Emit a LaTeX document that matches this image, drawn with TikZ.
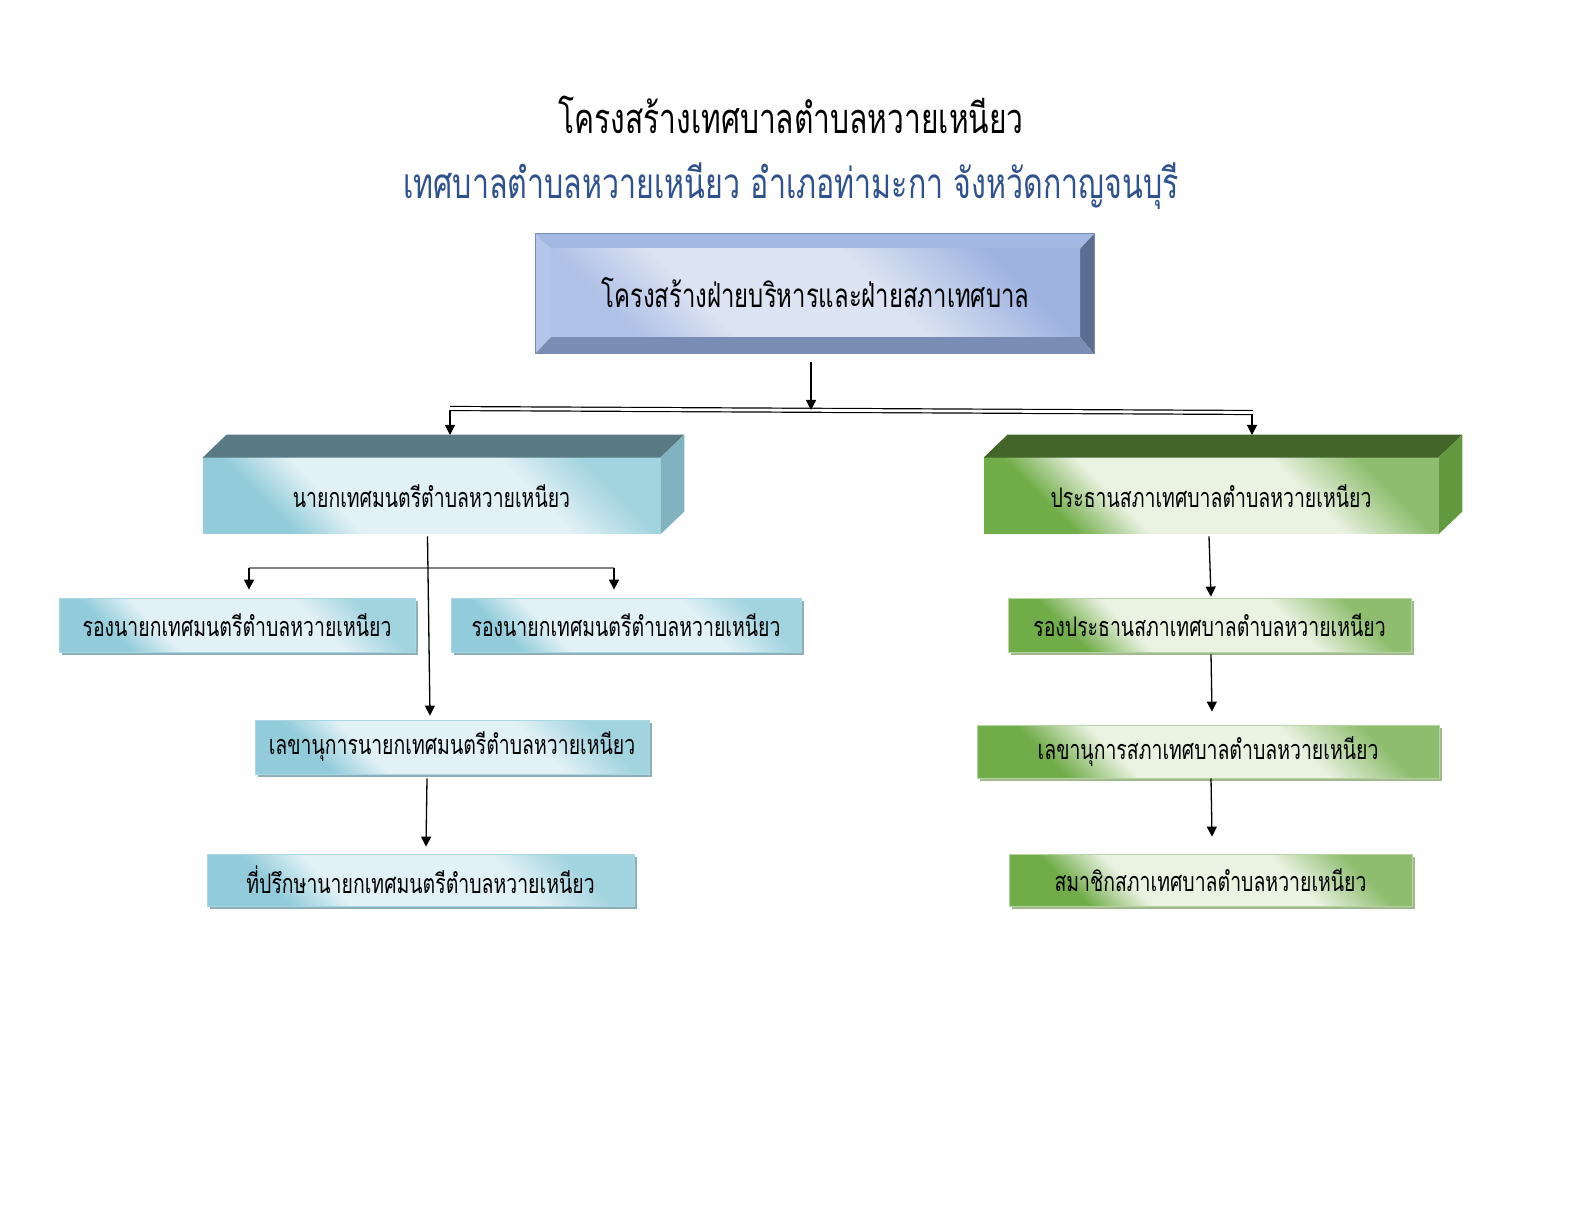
\documentclass[tikz,border=0pt]{standalone}
\usepackage{fontspec}
\newfontfamily\thai[Script=Thai,FakeStretch=0.72]{Loma}
\usetikzlibrary{arrows.meta,calc,shadows}
\definecolor{subblue}{RGB}{47,82,143}
\definecolor{bvtop}{RGB}{163,184,227}
\definecolor{bvleft}{RGB}{180,197,234}
\definecolor{bvright}{RGB}{91,110,146}
\definecolor{bvbot}{RGB}{122,141,181}
\definecolor{tbdark}{RGB}{158,179,226}
\definecolor{tblight}{RGB}{220,227,242}
\definecolor{bldark}{RGB}{146,204,218}
\definecolor{bllight}{RGB}{226,241,246}
\definecolor{blshadow}{RGB}{140,175,186}
\definecolor{gndark}{RGB}{112,172,72}
\definecolor{gnlight}{RGB}{234,242,226}
\definecolor{gnshadow}{RGB}{160,184,140}
\definecolor{bltop}{RGB}{90,123,132}
\definecolor{blside}{RGB}{128,178,192}
\definecolor{gntop}{RGB}{68,101,42}
\definecolor{gnside}{RGB}{99,153,62}
\pgfdeclarehorizontalshading{bluesh}{100bp}{color(0bp)=(bldark); color(27bp)=(bldark); color(36bp)=(bllight); color(64bp)=(bllight); color(75bp)=(bldark!85); color(100bp)=(bldark!85)}
\pgfdeclarehorizontalshading{greensh}{100bp}{color(0bp)=(gndark); color(27bp)=(gndark); color(37bp)=(gnlight); color(63bp)=(gnlight); color(75bp)=(gndark!80); color(100bp)=(gndark!80)}
\pgfdeclarehorizontalshading{topsh}{100bp}{color(0bp)=(tbdark!80); color(25bp)=(tbdark!80); color(36bp)=(tblight); color(58bp)=(tblight); color(75bp)=(tbdark); color(100bp)=(tbdark)}
\begin{document}
\begin{tikzpicture}[x=0.5pt,y=-0.5pt,
  every node/.style={font=\thai},
  arr/.style={draw=black,line width=0.65pt,-{Triangle[width=5pt,length=5pt]}},
  boxfont/.style={font=\thai\fontsize{13.5}{16}\selectfont},
  blueshade/.style={shading=bluesh,shading angle=45},
  greenshade/.style={shading=greensh,shading angle=45},
  flatblue/.style={blueshade,draw=bldark!80,line width=0.4pt,
    general shadow={shadow xshift=1.5pt,shadow yshift=-1.5pt,fill=blshadow},minimum height=27pt,inner sep=0pt,boxfont},
  flatgreen/.style={greenshade,draw=gndark!50,line width=0.4pt,
    general shadow={shadow xshift=1.5pt,shadow yshift=-1.5pt,fill=gnshadow},minimum height=27pt,inner sep=0pt,boxfont},
  boxblue/.style={blueshade,minimum height=38pt,inner sep=0pt,boxfont},
  boxgreen/.style={greenshade,minimum height=38pt,inner sep=0pt,boxfont}
]
\useasboundingbox (0,0) rectangle (1584,1224);

% titles
\node[font=\thai\fontsize{20.8}{24}\selectfont] (title) at (791,115) {โครงสร้างเทศบาลตำบลหวายเหนียว};
\node[font=\thai\fontsize{21.1}{24}\selectfont,text=subblue] (sub) at (791,186) {เทศบาลตำบลหวายเหนียว อำเภอท่ามะกา จังหวัดกาญจนบุรี};

% top bevel box
\fill[bvtop] (535,234) -- (1094,234) -- (1080,249) -- (551,249) -- cycle;
\fill[bvleft] (535,234) -- (551,249) -- (551,337) -- (535,354) -- cycle;
\fill[bvright] (1094,234) -- (1094,354) -- (1080,337) -- (1080,249) -- cycle;
\fill[bvbot] (535,354) -- (551,337) -- (1080,337) -- (1094,354) -- cycle;
\draw[bvbot,line width=0.5pt] (535,234) rectangle (1094,354);
\node[shading=topsh,shading angle=45,minimum width=264.5pt,minimum height=44pt,inner sep=0pt,font=\thai\fontsize{16.6}{20}\selectfont] (top) at (815.5,293) {โครงสร้างฝ่ายบริหารและฝ่ายสภาเทศบาล};

% 3D boxes
\node[boxblue,minimum width=228.5pt] (nayok) at (431.5,496) {นายกเทศมนตรีตำบลหวายเหนียว};
\fill[bltop] (nayok.north west) -- ++(24,-23) -- ($(nayok.north east)+(24,-23)$) -- (nayok.north east) -- cycle;
\fill[blside] (nayok.north east) -- ++(24,-23) -- ($(nayok.south east)+(24,-23)$) -- (nayok.south east) -- cycle;

\node[boxgreen,minimum width=227pt] (prathan) at (1211,496) {ประธานสภาเทศบาลตำบลหวายเหนียว};
\fill[gntop] (prathan.north west) -- ++(24,-23) -- ($(prathan.north east)+(24,-23)$) -- (prathan.north east) -- cycle;
\fill[gnside] (prathan.north east) -- ++(24,-23) -- ($(prathan.south east)+(24,-23)$) -- (prathan.south east) -- cycle;

% flat boxes left
\node[flatblue,minimum width=178pt] (rn1) at (237,625) {รองนายกเทศมนตรีตำบลหวายเหนียว};
\node[flatblue,minimum width=175pt] (rn2) at (626,625) {รองนายกเทศมนตรีตำบลหวายเหนียว};
\node[flatblue,minimum width=197pt] (lsec) at (452,747) {เลขานุการนายกเทศมนตรีตำบลหวายเหนียว};
\node[flatblue,minimum width=213.5pt,minimum height=26pt] (ladv) at (420.5,880) {ที่ปรึกษานายกเทศมนตรีตำบลหวายเหนียว};

% flat boxes right
\node[flatgreen,minimum width=201.5pt] (rvp) at (1209.5,625) {รองประธานสภาเทศบาลตำบลหวายเหนียว};
\node[flatgreen,minimum width=231pt,minimum height=26.5pt] (rsec) at (1208,751.5) {เลขานุการสภาเทศบาลตำบลหวายเหนียว};
\node[flatgreen,minimum width=201.5pt,minimum height=26pt] (rmem) at (1210.5,880) {สมาชิกสภาเทศบาลตำบลหวายเหนียว};

% connectors
\coordinate (jl) at (450,408.5);
\coordinate (jr) at (1253,412.5);
\coordinate (jm) at (811,410);
\coordinate (nt) at (450,435);
\coordinate (pt) at (1252,435);
\draw[line width=0.6pt,double,double distance=1.4pt] (jl) -- (jr);
\draw[arr] ($(top.south)+(-4.5,25)$) -- (jm);
\draw[arr] ($(jl)+(0,1.5)$) -- (nt);
\draw[arr] ($(jr)+(-1,1.5)$) -- (pt);

\coordinate (bl) at (249,568);
\coordinate (br) at (614,568);
\draw[gray,line width=0.75pt] (bl) -- (br);
\draw[arr,shorten >=4pt] (bl) -- (rn1.north -| bl);
\draw[arr,shorten >=4pt] (br) -- (rn2.north -| br);
\draw[arr] ($(nayok.south)+(-4,2)$) -- ($(lsec.north)+(-22,-4)$);
\draw[arr] ($(lsec.south)+(-25,4)$) -- ($(ladv.north)+(5.5,-7)$);

\draw[arr] ($(prathan.south)+(-2,2)$) -- ($(rvp.north)+(1.5,-1)$);
\draw[arr] ($(rvp.south)+(1.5,2)$) -- ($(rsec.north)+(4,-13)$);
\draw[arr] ($(rsec.south)+(3,0)$) -- ($(rmem.north)+(1.5,-17)$);
\end{tikzpicture}
\end{document}
